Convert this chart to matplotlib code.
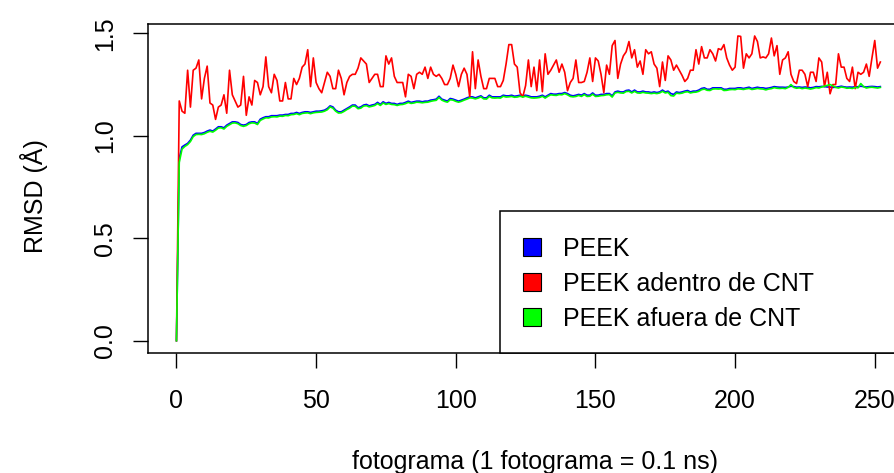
import matplotlib
matplotlib.use("Agg")
import matplotlib.pyplot as plt
from matplotlib.patches import Rectangle
import numpy as np

# RMSD por fotograma
peek = [
    0.0, 0.89, 0.946, 0.955, 0.963, 0.979, 1.003, 1.012, 1.012, 1.012,
    1.016, 1.023, 1.028, 1.023, 1.033, 1.044, 1.044, 1.039, 1.052, 1.060,
    1.068, 1.068, 1.065, 1.055, 1.052, 1.055, 1.065, 1.068, 1.068, 1.060,
    1.081, 1.088, 1.093, 1.093, 1.098, 1.098, 1.098, 1.101, 1.101, 1.104,
    1.104, 1.109, 1.109, 1.114, 1.109, 1.114, 1.117, 1.117, 1.114, 1.117,
    1.120, 1.120, 1.122, 1.125, 1.133, 1.146, 1.141, 1.125, 1.117, 1.117,
    1.125, 1.133, 1.141, 1.150, 1.150, 1.137, 1.141, 1.150, 1.153, 1.146,
    1.150, 1.153, 1.163, 1.153, 1.166, 1.158, 1.163, 1.158, 1.158, 1.153,
    1.158, 1.158, 1.163, 1.169, 1.163, 1.166, 1.169, 1.169, 1.166, 1.169,
    1.169, 1.174, 1.176, 1.179, 1.193, 1.179, 1.174, 1.169, 1.182, 1.179,
    1.174, 1.169, 1.174, 1.179, 1.185, 1.190, 1.190, 1.185, 1.190, 1.195,
    1.185, 1.185, 1.198, 1.190, 1.190, 1.190, 1.190, 1.198, 1.195, 1.195,
    1.198, 1.193, 1.195, 1.198, 1.195, 1.198, 1.195, 1.190, 1.190, 1.190,
    1.193, 1.198, 1.190, 1.198, 1.206, 1.203, 1.203, 1.206, 1.206, 1.211,
    1.206, 1.198, 1.195, 1.198, 1.202, 1.198, 1.206, 1.198, 1.198, 1.209,
    1.198, 1.198, 1.202, 1.202, 1.206, 1.206, 1.195, 1.214, 1.218, 1.214,
    1.214, 1.221, 1.223, 1.214, 1.223, 1.214, 1.214, 1.218, 1.214, 1.214,
    1.211, 1.214, 1.211, 1.214, 1.223, 1.214, 1.218, 1.206, 1.202, 1.214,
    1.211, 1.214, 1.218, 1.221, 1.214, 1.218, 1.218, 1.223, 1.231, 1.234,
    1.227, 1.227, 1.234, 1.234, 1.234, 1.234, 1.227, 1.227, 1.231, 1.231,
    1.231, 1.234, 1.234, 1.231, 1.234, 1.237, 1.231, 1.234, 1.237, 1.234,
    1.234, 1.231, 1.233, 1.236, 1.240, 1.238, 1.237, 1.237, 1.236, 1.238,
    1.242, 1.240, 1.237, 1.238, 1.236, 1.238, 1.237, 1.234, 1.236, 1.240,
    1.239, 1.241, 1.240, 1.238, 1.238, 1.236, 1.237, 1.239, 1.242, 1.239,
    1.237, 1.238, 1.237, 1.240, 1.239, 1.242, 1.240, 1.238, 1.240, 1.241,
    1.240, 1.238, 1.240,
]

peek_adentro = [
    0.0, 1.17, 1.12, 1.11, 1.32, 1.14, 1.32, 1.33, 1.37, 1.18,
    1.28, 1.34, 1.16, 1.15, 1.08, 1.14, 1.15, 1.20, 1.11, 1.32,
    1.20, 1.17, 1.14, 1.15, 1.29, 1.10, 1.19, 1.15, 1.27, 1.26,
    1.20, 1.24, 1.385, 1.24, 1.21, 1.30, 1.27, 1.17, 1.17, 1.26,
    1.18, 1.18, 1.28, 1.25, 1.28, 1.335, 1.35, 1.42, 1.24, 1.38,
    1.26, 1.23, 1.21, 1.26, 1.31, 1.29, 1.23, 1.23, 1.32, 1.28,
    1.20, 1.26, 1.29, 1.30, 1.30, 1.33, 1.38, 1.365, 1.35, 1.26,
    1.28, 1.30, 1.30, 1.24, 1.24, 1.39, 1.35, 1.38, 1.29, 1.26,
    1.26, 1.26, 1.19, 1.30, 1.29, 1.23, 1.30, 1.31, 1.30, 1.335,
    1.28, 1.335, 1.30, 1.29, 1.30, 1.28, 1.25, 1.25, 1.28, 1.345,
    1.30, 1.24, 1.30, 1.33, 1.30, 1.19, 1.41, 1.23, 1.37, 1.29,
    1.23, 1.23, 1.28, 1.28, 1.28, 1.24, 1.24, 1.27, 1.35, 1.445,
    1.445, 1.35, 1.335, 1.21, 1.19, 1.245, 1.37, 1.24, 1.335, 1.22,
    1.37, 1.215, 1.40, 1.30, 1.32, 1.345, 1.37, 1.31, 1.35, 1.31,
    1.22, 1.26, 1.28, 1.37, 1.26, 1.26, 1.265, 1.31, 1.38, 1.265,
    1.38, 1.365, 1.30, 1.21, 1.345, 1.30, 1.44, 1.465, 1.28, 1.35,
    1.39, 1.41, 1.46, 1.38, 1.42, 1.335, 1.365, 1.30, 1.42, 1.40,
    1.41, 1.35, 1.33, 1.24, 1.36, 1.27, 1.39, 1.37, 1.32, 1.345,
    1.32, 1.295, 1.265, 1.28, 1.32, 1.32, 1.42, 1.35, 1.435, 1.38,
    1.38, 1.42, 1.40, 1.365, 1.425, 1.42, 1.445, 1.38, 1.345, 1.32,
    1.335, 1.487, 1.485, 1.33, 1.40, 1.38, 1.40, 1.487, 1.46, 1.38,
    1.385, 1.38, 1.40, 1.477, 1.39, 1.44, 1.30, 1.37, 1.38, 1.41,
    1.30, 1.265, 1.255, 1.32, 1.32, 1.30, 1.24, 1.31, 1.31, 1.265,
    1.38, 1.36, 1.24, 1.31, 1.205, 1.25, 1.25, 1.40, 1.335, 1.335,
    1.28, 1.265, 1.335, 1.23, 1.31, 1.30, 1.31, 1.35, 1.29, 1.38,
    1.465, 1.33, 1.36,
]

peek_afuera = [
    0.0, 0.87, 0.935, 0.948, 0.957, 0.972, 0.996, 1.006, 1.007, 1.006,
    1.010, 1.017, 1.022, 1.018, 1.027, 1.038, 1.039, 1.033, 1.046, 1.054,
    1.062, 1.063, 1.059, 1.050, 1.046, 1.050, 1.059, 1.063, 1.062, 1.055,
    1.075, 1.082, 1.088, 1.087, 1.092, 1.093, 1.092, 1.096, 1.095, 1.099,
    1.098, 1.103, 1.104, 1.108, 1.103, 1.109, 1.111, 1.112, 1.108, 1.112,
    1.114, 1.115, 1.116, 1.120, 1.127, 1.141, 1.135, 1.120, 1.111, 1.112,
    1.119, 1.128, 1.135, 1.145, 1.144, 1.132, 1.135, 1.145, 1.147, 1.141,
    1.144, 1.148, 1.157, 1.148, 1.160, 1.153, 1.157, 1.153, 1.152, 1.148,
    1.152, 1.153, 1.157, 1.163, 1.158, 1.160, 1.164, 1.163, 1.161, 1.163,
    1.164, 1.168, 1.171, 1.173, 1.187, 1.174, 1.168, 1.164, 1.176, 1.174,
    1.168, 1.164, 1.168, 1.174, 1.179, 1.185, 1.184, 1.180, 1.184, 1.190,
    1.180, 1.179, 1.192, 1.185, 1.184, 1.185, 1.184, 1.193, 1.189, 1.190,
    1.192, 1.188, 1.189, 1.193, 1.189, 1.193, 1.189, 1.185, 1.184, 1.185,
    1.187, 1.193, 1.184, 1.193, 1.200, 1.198, 1.197, 1.201, 1.200, 1.206,
    1.200, 1.192, 1.190, 1.192, 1.197, 1.192, 1.201, 1.192, 1.193, 1.203,
    1.192, 1.193, 1.196, 1.197, 1.200, 1.201, 1.189, 1.209, 1.212, 1.209,
    1.208, 1.216, 1.217, 1.209, 1.217, 1.209, 1.208, 1.212, 1.209, 1.208,
    1.206, 1.208, 1.206, 1.209, 1.217, 1.209, 1.212, 1.196, 1.194, 1.208,
    1.206, 1.208, 1.213, 1.215, 1.209, 1.212, 1.213, 1.217, 1.225, 1.228,
    1.222, 1.221, 1.228, 1.229, 1.228, 1.229, 1.221, 1.222, 1.225, 1.226,
    1.225, 1.229, 1.228, 1.226, 1.229, 1.231, 1.226, 1.228, 1.231, 1.229,
    1.228, 1.224, 1.228, 1.230, 1.235, 1.232, 1.231, 1.232, 1.230, 1.236,
    1.250, 1.236, 1.232, 1.234, 1.230, 1.233, 1.231, 1.228, 1.231, 1.235,
    1.233, 1.238, 1.242, 1.246, 1.250, 1.244, 1.236, 1.233, 1.238, 1.236,
    1.232, 1.233, 1.231, 1.236, 1.234, 1.255, 1.240, 1.233, 1.236, 1.237,
    1.235, 1.233, 1.236,
]

series_names = ["PEEK", "PEEK adentro de CNT", "PEEK afuera de CNT"]
series_colors = ["#0000ff", "#ff0000", "#00ff00"]
x_ticks = [0, 50, 100, 150, 200, 250]
y_ticks = [0.0, 0.5, 1.0, 1.5]
y_tick_labels = ["0.0", "0.5", "1.0", "1.5"]

plt.rcParams['font.family'] = ['Liberation Sans', 'DejaVu Sans']
FS = 18

W, H = 894, 473
fig = plt.figure(figsize=(W / 100, H / 100), dpi=100)


def fx(px):
    return px / W


def fy(py):
    return 1 - py / H


# region de grafico tipo R (se sale por la derecha de la imagen)
ax_left, ax_right, ax_top, ax_bottom = 148.3, 908.5, 23.8, 352.9
ax = fig.add_axes([fx(ax_left), fy(ax_bottom), fx(ax_right - ax_left),
                   (ax_bottom - ax_top) / H])

data = [peek, peek_adentro, peek_afuera]
for vals, col in zip(data, series_colors):
    frames = np.arange(len(vals))
    ax.plot(frames, vals, color=col, lw=1.2)

# limites al estilo R (4% de margen)
n_last = len(peek_adentro) - 1
ymax = max(max(v) for v in data)
ax.set_xlim(-0.04 * n_last, n_last * 1.04)
ax.set_ylim(-0.04 * ymax, ymax * 1.04)

ax.set_xticks(x_ticks)
ax.set_yticks(y_ticks)
ax.set_yticklabels(y_tick_labels)
ax.tick_params(axis='both', direction='out', length=10.8, width=1.0,
               labelsize=FS, color='black')
ax.tick_params(axis='x', pad=15)
ax.tick_params(axis='y', pad=12, labelrotation=90)
for lab in ax.get_yticklabels():
    lab.set_va('center')
for sp in ax.spines.values():
    sp.set_linewidth(1.1)

fig.text(fx(535), fy(469), "fotograma (1 fotograma = 0.1 ns)",
         ha='center', va='baseline', fontsize=FS)
fig.text(fx(43.5), fy(196), "RMSD (\u00c5)", rotation=90,
         rotation_mode='anchor', ha='center', va='baseline', fontsize=FS)

# leyenda dibujada a mano como en R (legend con fill)
fig.add_artist(Rectangle((fx(500), fy(ax_bottom)), fx(420),
                         (ax_bottom - 210.7) / H, transform=fig.transFigure,
                         facecolor='white', edgecolor='black', lw=1.1))
row_y = [246.8, 281.7, 316.7]
for name, col, ry in zip(series_names, series_colors, row_y):
    fig.add_artist(Rectangle((fx(522.7), fy(ry + 9)), fx(18), 18 / H,
                             transform=fig.transFigure, facecolor=col,
                             edgecolor='black', lw=0.8))
    fig.text(fx(562.7), fy(ry), name, ha='left', va='center_baseline',
             fontsize=FS)

fig.savefig("out.png", dpi=100)
